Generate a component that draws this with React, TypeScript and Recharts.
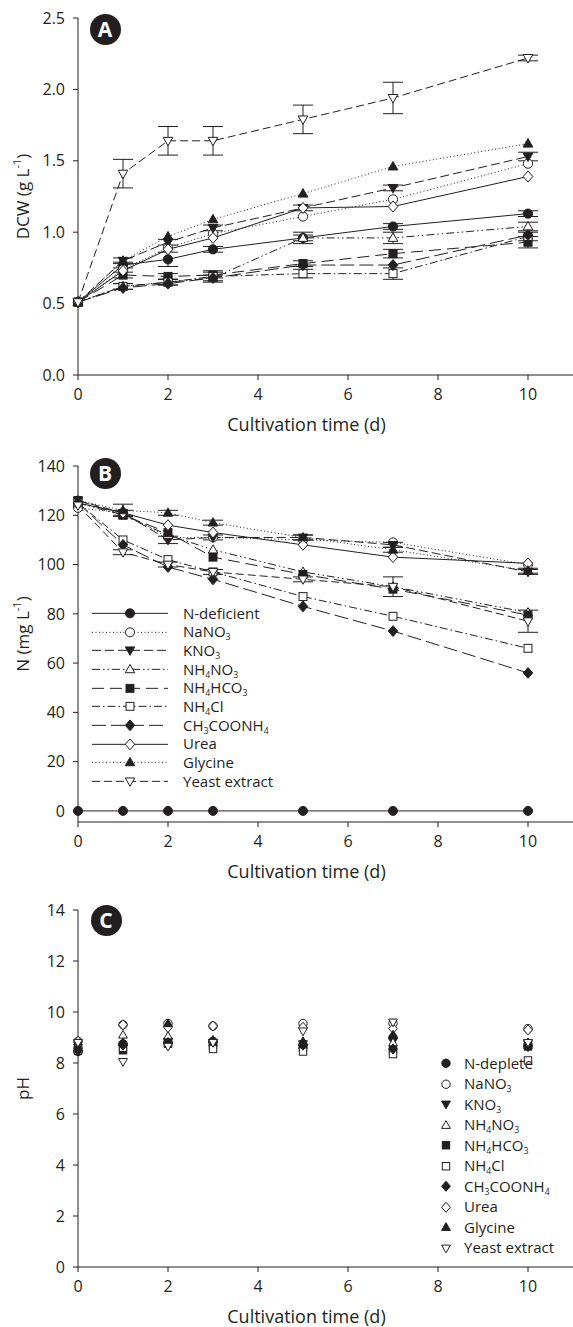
import { ErrorBar, Legend, Line, LineChart, XAxis, YAxis } from 'recharts';

const INK = '#231f20';
const FONT = '"Open Sans", "Noto Sans", sans-serif';

// sampling days
const DAYS = [0, 1, 2, 3, 5, 7, 10];
const X_TICKS = [0, 2, 4, 6, 8, 10];
const DCW_TICKS = [0, 0.5, 1, 1.5, 2, 2.5];
const N_TICKS = [0, 20, 40, 60, 80, 100, 120, 140];
const PH_TICKS = [0, 2, 4, 6, 8, 10, 12, 14];

const SOURCES = ['nDef', 'naNO3', 'kNO3', 'nh4NO3', 'nh4HCO3', 'nh4Cl', 'ch3COONH4', 'urea', 'glycine', 'yeast'];
const LABELS_B = ['N-deficient', 'NaNO_3', 'KNO_3', 'NH_4NO_3', 'NH_4HCO_3', 'NH_4Cl', 'CH_3COONH_4', 'Urea', 'Glycine', 'Yeast extract'];
const LABELS_C = ['N-deplete', 'NaNO_3', 'KNO_3', 'NH_4NO_3', 'NH_4HCO_3', 'NH_4Cl', 'CH_3COONH_4', 'Urea', 'Glycine', 'Yeast extract'];

// (A) dry cell weight, g/L
const dcwNDef = [0.51, 0.77, 0.81, 0.88, 0.96, 1.04, 1.13];
const dcwNaNO3 = [0.51, 0.74, 0.89, 0.99, 1.11, 1.23, 1.48];
const dcwKNO3 = [0.51, 0.8, 0.93, 1.03, 1.17, 1.31, 1.53];
const dcwNH4NO3 = [0.51, 0.62, 0.65, 0.68, 0.96, 0.96, 1.04];
const dcwNH4HCO3 = [0.51, 0.7, 0.69, 0.7, 0.78, 0.85, 0.93];
const dcwNH4Cl = [0.51, 0.62, 0.65, 0.69, 0.71, 0.71, 0.97];
const dcwCH3COONH4 = [0.51, 0.61, 0.64, 0.68, 0.77, 0.77, 0.98];
const dcwUrea = [0.51, 0.73, 0.88, 0.96, 1.17, 1.18, 1.39];
const dcwGlycine = [0.51, 0.8, 0.97, 1.09, 1.27, 1.46, 1.62];
const dcwYeast = [0.51, 1.41, 1.64, 1.64, 1.79, 1.94, 2.22];

const dcwErrNDef = [0, 0.02, 0.05, 0.02, 0.02, 0.02, 0.02];
const dcwErrKNO3 = [0, 0.02, 0.02, 0.02, 0.02, 0.02, 0.03];
const dcwErrNH4NO3 = [0, 0.02, 0.02, 0.02, 0.04, 0.04, 0.03];
const dcwErrNH4HCO3 = [0, 0.02, 0.02, 0.02, 0.02, 0.03, 0.04];
const dcwErrNH4Cl = [0, 0.02, 0.02, 0.04, 0.03, 0.04, 0.03];
const dcwErrYeast = [0, 0.1, 0.1, 0.1, 0.1, 0.11, 0.02];

// (B) residual nitrogen, mg/L
const nNDef = [0, 0, 0, 0, 0, 0, 0];
const nNaNO3 = [123, 121, 111, 111, 110, 109, 100];
const nKNO3 = [126, 121, 110, 111, 111, 108, 97];
const nNH4NO3 = [125, 120, 112, 106, 97, 91, 80.5];
const nNH4HCO3 = [126, 120, 113, 103, 96, 90, 79.5];
const nNH4Cl = [125, 110, 102, 97, 87, 79, 66];
const nCH3COONH4 = [125, 108, 99, 94, 83, 73, 56];
const nUrea = [125, 121, 116, 113, 108, 103, 100.5];
const nGlycine = [126, 122, 121, 117, 111, 106, 97.5];
const nYeast = [124, 105, 100, 97, 94, 91, 77];

const nErrKNO3 = [0, 1, 1.5, 1, 1, 1, 1];
const nErrGlycine = [0, 2.5, 1, 1, 1, 1, 1];
const nErrYeast = [0, 1, 1, 1, 1, 4, 4.5];

// (C) pH
const phNDef = [8.45, 8.75, 8.8, 8.85, 8.7, 9.0, 8.7];
const phNaNO3 = [8.85, 9.5, 9.55, 9.45, 9.55, 9.55, 9.35];
const phKNO3 = [8.6, 8.65, 8.85, 8.8, 8.75, 8.85, 8.75];
const phNH4NO3 = [8.7, 9.1, 9.05, 8.8, 8.7, 8.8, 8.7];
const phNH4HCO3 = [8.5, 8.5, 8.8, 8.7, 8.6, 8.5, 8.65];
const phNH4Cl = [8.5, 8.6, 8.75, 8.55, 8.45, 8.35, 8.1];
const phCH3COONH4 = [8.5, 8.7, 8.8, 8.85, 8.7, 8.55, 8.65];
const phUrea = [8.85, 9.5, 9.4, 9.45, 9.4, 9.35, 9.3];
const phGlycine = [8.6, 8.8, 9.55, 8.9, 8.85, 9.1, 8.8];
const phYeast = [8.8, 8.05, 8.65, 8.8, 9.25, 9.6, 8.8];

type Shape = 'circle' | 'up' | 'down' | 'square' | 'diamond';

const LOOK: Record<string, { shape: Shape; filled: boolean; dash?: string }> = {
  nDef: { shape: 'circle', filled: true },
  naNO3: { shape: 'circle', filled: false, dash: '1 2.5' },
  kNO3: { shape: 'down', filled: true, dash: '9 4' },
  nh4NO3: { shape: 'up', filled: false, dash: '8 3 1.5 3 1.5 3' },
  nh4HCO3: { shape: 'square', filled: true, dash: '12 6' },
  nh4Cl: { shape: 'square', filled: false, dash: '8 3 1.5 3' },
  ch3COONH4: { shape: 'diamond', filled: true, dash: '14 5' },
  urea: { shape: 'diamond', filled: false },
  glycine: { shape: 'up', filled: true, dash: '1 2.5' },
  yeast: { shape: 'down', filled: false, dash: '8 4' },
};

function buildTable(cols: number[][], errs: Record<string, number[]>) {
  return DAYS.map((day, i) => {
    const row: Record<string, number> = { day };
    SOURCES.forEach((key, k) => {
      row[key] = cols[k][i];
    });
    Object.entries(errs).forEach(([key, arr]) => {
      row[`${key}Err`] = arr[i];
    });
    return row;
  });
}

const dcwData = buildTable(
  [dcwNDef, dcwNaNO3, dcwKNO3, dcwNH4NO3, dcwNH4HCO3, dcwNH4Cl, dcwCH3COONH4, dcwUrea, dcwGlycine, dcwYeast],
  { nDef: dcwErrNDef, kNO3: dcwErrKNO3, nh4NO3: dcwErrNH4NO3, nh4HCO3: dcwErrNH4HCO3, nh4Cl: dcwErrNH4Cl, yeast: dcwErrYeast },
);
const nData = buildTable(
  [nNDef, nNaNO3, nKNO3, nNH4NO3, nNH4HCO3, nNH4Cl, nCH3COONH4, nUrea, nGlycine, nYeast],
  { kNO3: nErrKNO3, glycine: nErrGlycine, yeast: nErrYeast },
);
const phData = buildTable(
  [phNDef, phNaNO3, phKNO3, phNH4NO3, phNH4HCO3, phNH4Cl, phCH3COONH4, phUrea, phGlycine, phYeast],
  {},
);

function Marker({ cx, cy, r, shape, filled }: { cx?: number; cy?: number; r: number; shape: Shape; filled: boolean }) {
  if (cx == null || cy == null) return null;
  const paint = { fill: filled ? INK : '#fff', stroke: INK, strokeWidth: 1 };
  if (shape === 'circle') return <circle cx={cx} cy={cy} r={r} {...paint} />;
  if (shape === 'square') {
    const h = r * 0.88;
    return <rect x={cx - h} y={cy - h} width={h * 2} height={h * 2} {...paint} />;
  }
  if (shape === 'diamond') {
    const pts = `${cx},${cy - r * 1.2} ${cx + r * 1.05},${cy} ${cx},${cy + r * 1.2} ${cx - r * 1.05},${cy}`;
    return <polygon points={pts} {...paint} />;
  }
  const s = shape === 'up' ? 1 : -1;
  const pts = `${cx},${cy - s * r * 1.1} ${cx + r * 1.05},${cy + s * r * 0.75} ${cx - r * 1.05},${cy + s * r * 0.75}`;
  return <polygon points={pts} {...paint} />;
}

function Formula({ text }: { text: string }) {
  const parts = text.split(/_(\d)/);
  return (
    <>
      {parts.map((p, i) =>
        i % 2 ? (
          <span key={i} style={{ fontSize: '0.58em', position: 'relative', top: '0.32em', lineHeight: 0 }}>
            {p}
          </span>
        ) : (
          <span key={i}>{p}</span>
        ),
      )}
    </>
  );
}

function LegendBox({ labels, withLine, rowH, sampleW, gap, r, fontSize }: any) {
  return (
    <div style={{ fontFamily: FONT, fontSize, color: INK, lineHeight: 1 }}>
      {SOURCES.map((key, i) => (
        <div key={key} style={{ display: 'flex', alignItems: 'center', height: rowH }}>
          <svg width={sampleW} height={rowH} style={{ display: 'block', overflow: 'visible' }}>
            {withLine && (
              <line x1={0} x2={sampleW} y1={rowH / 2} y2={rowH / 2} stroke={INK} strokeWidth={1} strokeDasharray={LOOK[key].dash} />
            )}
            <Marker cx={sampleW / 2} cy={rowH / 2} r={r} shape={LOOK[key].shape} filled={LOOK[key].filled} />
          </svg>
          <span style={{ marginLeft: gap, whiteSpace: 'nowrap' }}>
            <Formula text={labels[i]} />
          </span>
        </div>
      ))}
    </div>
  );
}

function YTitle({ viewBox, text, sup, tail, dy = 0 }: any) {
  const x = 22;
  const cy = (viewBox?.y ?? 0) + (viewBox?.height ?? 0) / 2 + dy;
  return (
    <text
      x={x}
      y={cy}
      transform={`rotate(-90 ${x} ${cy})`}
      textAnchor='middle'
      dominantBaseline='central'
      fill={INK}
      fontSize={17}
      fontFamily={FONT}
    >
      {text}
      {sup && (
        <>
          <tspan dy={-6} fontSize={11}>
            {sup}
          </tspan>
          <tspan dy={6}>{tail}</tspan>
        </>
      )}
    </text>
  );
}

function XTitle({ viewBox }: any) {
  const x = (viewBox?.x ?? 0) + (viewBox?.width ?? 0) / 2 - 19;
  const y = (viewBox?.y ?? 0) + 56;
  return (
    <text x={x} y={y} textAnchor='middle' fill={INK} fontSize={18} fontFamily={FONT}>
      Cultivation time (d)
    </text>
  );
}

function Badge({ letter, x, y }: { letter: string; x: number; y: number }) {
  return (
    <div
      style={{
        position: 'absolute',
        left: x - 15.5,
        top: y - 15.5,
        width: 31,
        height: 31,
        borderRadius: '50%',
        background: INK,
        color: '#fff',
        fontFamily: FONT,
        fontWeight: 700,
        fontSize: 21,
        display: 'flex',
        alignItems: 'center',
        justifyContent: 'center',
      }}
    >
      {letter}
    </div>
  );
}

const tickStyle = { fill: INK, fontSize: 16, fontFamily: FONT };

type PanelProps = {
  data: Record<string, number>[];
  height: number;
  top: number;
  xHeight: number;
  domain: [number, number];
  ticks: number[];
  fmt?: (v: number) => string;
  yTitle: any;
  errs: string[];
  withLines: boolean;
  r: number;
  legend?: any;
};

// chart is drawn a few px taller than its slot so the x title's descenders are not clipped
const SPILL = 8;

function Panel({ data, height, top, xHeight, domain, ticks, fmt, yTitle, errs, withLines, r, legend }: PanelProps) {
  return (
    <LineChart width={573} height={height + SPILL} data={data} margin={{ top, right: 0, bottom: SPILL, left: 0 }}>
      <XAxis
        type='number'
        dataKey='day'
        domain={[0, 11]}
        ticks={X_TICKS}
        height={xHeight}
        tickSize={5}
        tickMargin={9}
        tick={tickStyle}
        axisLine={{ stroke: INK }}
        tickLine={{ stroke: INK }}
        label={<XTitle />}
      />
      <YAxis
        type='number'
        domain={domain}
        ticks={ticks}
        width={78}
        tickSize={5}
        tickMargin={8}
        tick={tickStyle}
        tickFormatter={fmt}
        axisLine={{ stroke: INK }}
        tickLine={{ stroke: INK }}
        label={yTitle}
      />
      {legend}
      {SOURCES.map((key) => (
        <Line
          key={key}
          type='linear'
          dataKey={key}
          stroke={withLines ? INK : 'none'}
          strokeWidth={1}
          strokeDasharray={LOOK[key].dash}
          activeDot={false}
          isAnimationActive={false}
          dot={(p: any) => (
            <Marker key={`${key}-${p.index}`} cx={p.cx} cy={p.cy} r={r} shape={LOOK[key].shape} filled={LOOK[key].filled} />
          )}
        >
          {errs.includes(key) && (
            <ErrorBar dataKey={`${key}Err`} direction='y' width={10} stroke={INK} strokeWidth={1} />
          )}
        </Line>
      ))}
    </LineChart>
  );
}

export default function App() {
  return (
    <div style={{ width: 573, background: '#fff', fontFamily: FONT }}>
      <style>{'body{margin:0;background:#fff}'}</style>

      <div style={{ position: 'relative', height: 440 }}>
        <Panel
          data={dcwData}
          height={440}
          top={18}
          xHeight={65}
          domain={[0, 2.5]}
          ticks={DCW_TICKS}
          fmt={(v) => v.toFixed(1)}
          yTitle={<YTitle text='DCW (g L' sup='-1' tail=')' />}
          errs={['nDef', 'kNO3', 'nh4NO3', 'nh4HCO3', 'nh4Cl', 'yeast']}
          withLines
          r={4.6}
        />
        <Badge letter='A' x={105} y={29} />
      </div>

      <div style={{ position: 'relative', height: 440 }}>
        <Panel
          data={nData}
          height={440}
          top={26}
          xHeight={58}
          domain={[-4.5, 140]}
          ticks={N_TICKS}
          yTitle={<YTitle text='N (mg L' sup='-1' tail=')' dy={-10} />}
          errs={['kNO3', 'glycine', 'yeast']}
          withLines
          r={4.5}
          legend={
            <Legend
              layout='vertical'
              align='center'
              verticalAlign='middle'
              wrapperStyle={{ left: 92, top: 164, width: 'auto', height: 'auto' }}
              content={() => (
                <LegendBox labels={LABELS_B} withLine rowH={18.67} sampleW={76} gap={15} r={4.5} fontSize={15} />
              )}
            />
          }
        />
        <Badge letter='B' x={105} y={33} />
      </div>

      <div style={{ position: 'relative', height: 447 }}>
        <Panel
          data={phData}
          height={447}
          top={30}
          xHeight={60}
          domain={[0, 14]}
          ticks={PH_TICKS}
          yTitle={<YTitle text='pH' />}
          errs={[]}
          withLines={false}
          r={4.2}
          legend={
            <Legend
              layout='vertical'
              align='center'
              verticalAlign='middle'
              wrapperStyle={{ left: 440, top: 173, width: 'auto', height: 'auto' }}
              content={() => (
                <LegendBox labels={LABELS_C} withLine={false} rowH={20.5} sampleW={12} gap={12} r={4.2} fontSize={15} />
              )}
            />
          }
        />
        <Badge letter='C' x={106} y={40} />
      </div>
    </div>
  );
}
